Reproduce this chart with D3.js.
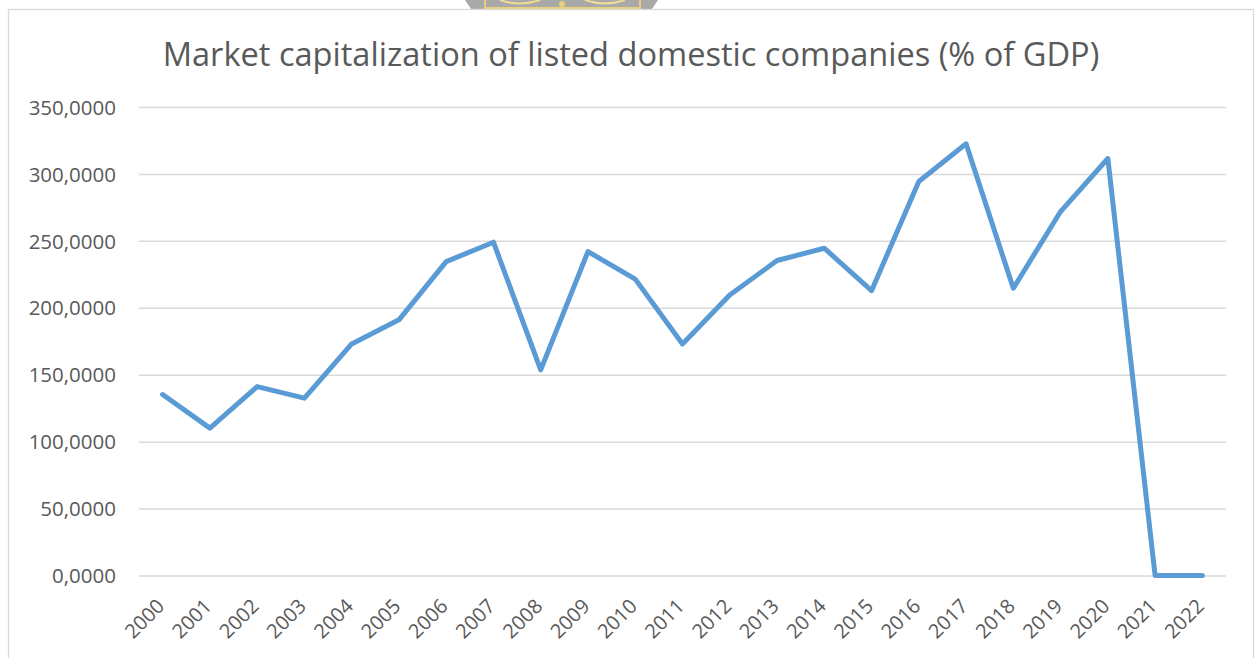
<!DOCTYPE html>
<html>
<head>
<meta charset="utf-8">
<script src="https://cdn.jsdelivr.net/npm/d3@7"></script>
<style>
  html, body { margin: 0; padding: 0; background: #fff; }
  svg { display: block; }
  text { font-family: "Open Sans", "Noto Sans", sans-serif; fill: #595959; }
</style>
</head>
<body>
<svg id="chart" width="1259" height="658"></svg>
<script>
// ---- data ----
const years = ["2000","2001","2002","2003","2004","2005","2006","2007","2008","2009","2010",
               "2011","2012","2013","2014","2015","2016","2017","2018","2019","2020","2021","2022"];
const marketCap = [135.2, 110.1, 141.1, 132.5, 173.0, 191.0, 234.5, 249.0, 153.6, 242.0, 221.4,
                   173.0, 209.6, 235.3, 244.5, 212.8, 294.3, 322.5, 214.6, 271.9, 311.5, 0, 0];
const yTicks = [0, 50, 100, 150, 200, 250, 300, 350];
const titleText = "Market capitalization of listed domestic companies (% of GDP)";

// ---- layout ----
const svg = d3.select("#chart");
const W = 1259, H = 658;
const plot = { left: 139, right: 1226, top: 107, bottom: 575.5 };

// decorative logo fragment above the frame
const logo = svg.append("g");
logo.append("path")
  .attr("d", "M465,0 L658,0 L652,9 L471,9 Z")
  .attr("fill", "#a9a9a9");
logo.append("path")
  .attr("d", "M485,0 L485,8 L640,8 L640,0")
  .attr("fill", "none").attr("stroke", "#e8cf7a").attr("stroke-width", 2);
logo.append("path")
  .attr("d", "M500,0 Q520,7 540,0 M585,0 Q605,7 625,0")
  .attr("fill", "none").attr("stroke", "#f0dc96").attr("stroke-width", 2);
logo.append("circle").attr("cx", 562).attr("cy", 4).attr("r", 3).attr("fill", "#e8cf7a");

// chart frame
svg.append("rect")
  .attr("x", 8.5).attr("y", 9.5).attr("width", 1245).attr("height", 660)
  .attr("fill", "#fff").attr("stroke", "#d9d9d9").attr("stroke-width", 1.3);

// scales
const x = d3.scaleBand().domain(years).range([plot.left, plot.right]).padding(0);
const y = d3.scaleLinear().domain([0, 350]).range([plot.bottom, plot.top]);

// gridlines via axis
const grid = svg.append("g")
  .attr("transform", `translate(${plot.left},0)`)
  .call(d3.axisLeft(y).tickValues(yTicks).tickSize(-(plot.right - plot.left)).tickFormat(""));
grid.select(".domain").remove();
grid.selectAll("line").attr("stroke", "#d9d9d9").attr("stroke-width", 1.5);

// y-axis labels
const fmt = v => d3.format(".4f")(v).replace(".", ",");
const yAxis = svg.append("g")
  .attr("transform", `translate(${plot.left},0)`)
  .call(d3.axisLeft(y).tickValues(yTicks).tickSize(0).tickPadding(23).tickFormat(fmt));
yAxis.select(".domain").remove();
yAxis.selectAll("text")
  .style("font-size", "20.5px")
  .attr("fill", "#595959")
  .attr("dy", "0.35em");

// x-axis labels
const xAxis = svg.append("g")
  .attr("transform", `translate(0,${plot.bottom})`)
  .call(d3.axisBottom(x).tickSize(0).tickPadding(0));
xAxis.select(".domain").remove();
xAxis.selectAll("text")
  .style("font-size", "20px")
  .attr("fill", "#595959")
  .attr("text-anchor", "end")
  .attr("dy", 0)
  .attr("y", 0)
  .attr("transform", "translate(3,32) rotate(-45)");

// line
const line = d3.line()
  .x((d, i) => x(years[i]) + x.bandwidth() / 2)
  .y(d => y(d));
svg.append("path")
  .datum(marketCap)
  .attr("d", line)
  .attr("fill", "none")
  .attr("stroke", "#5b9bd5")
  .attr("stroke-width", 5)
  .attr("stroke-linejoin", "round")
  .attr("stroke-linecap", "round");

// title, fitted to the reference width
const title = svg.append("text")
  .attr("x", 631).attr("y", 66)
  .attr("text-anchor", "middle")
  .style("font-size", "30px")
  .text(titleText);
const tw = title.node().getComputedTextLength();
title.style("font-size", (30 * 937 / tw).toFixed(2) + "px");
</script>
</body>
</html>
